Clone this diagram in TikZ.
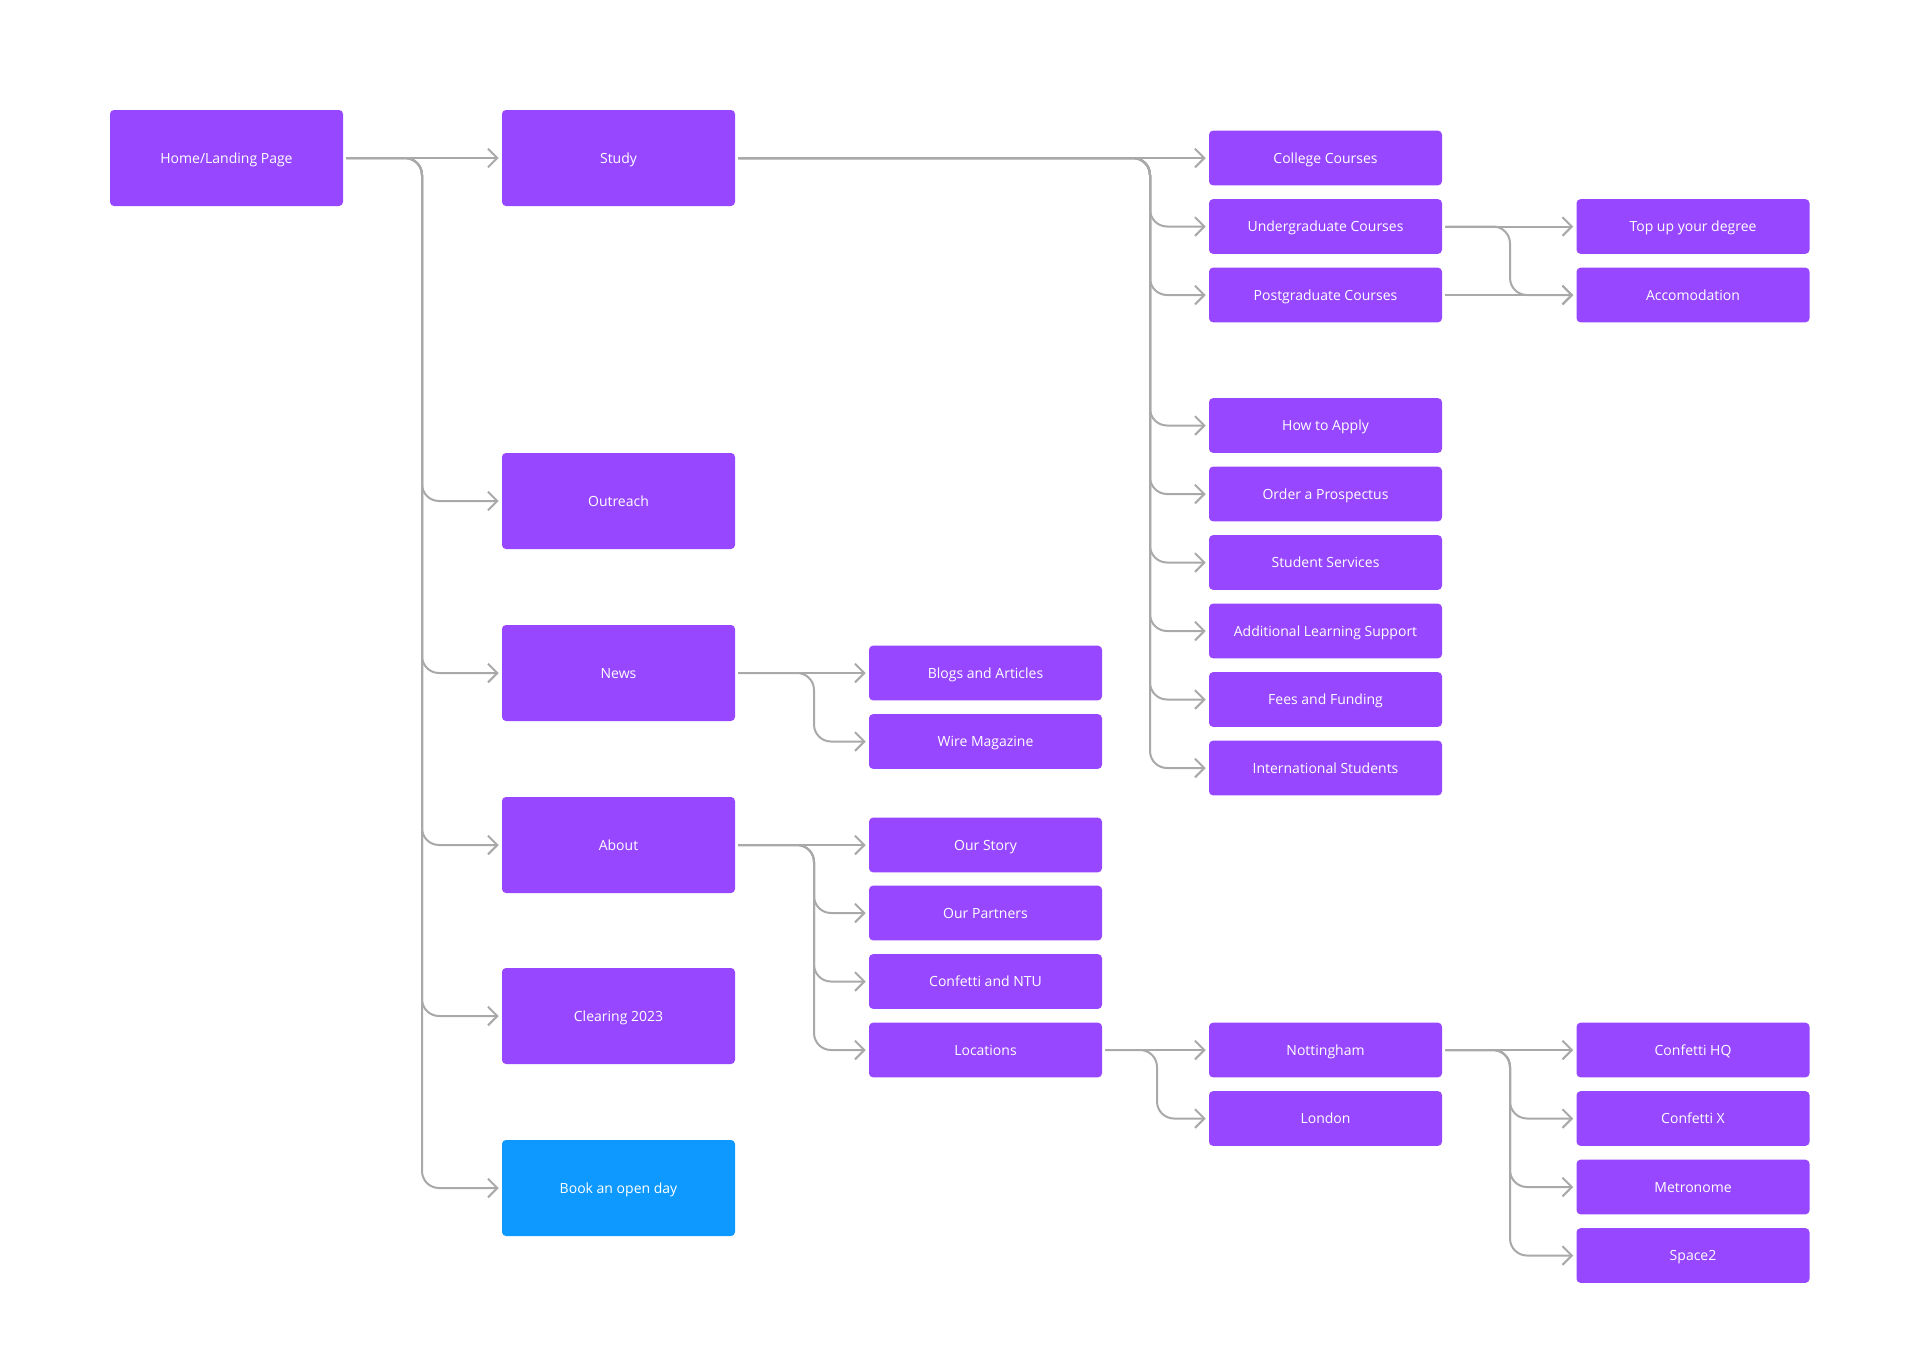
\documentclass[tikz,border=0pt]{standalone}
\usepackage{fontspec}
\setmainfont{Open Sans}
\usetikzlibrary{arrows.meta}
\definecolor{boxpurple}{HTML}{9747FF}
\definecolor{boxblue}{HTML}{0D99FF}
\definecolor{linegray}{HTML}{A9A9A9}
\tikzset{
  base/.style={rounded corners=3pt, text=white, font=\fontsize{10.5pt}{12pt}\selectfont, minimum width=174.75pt, inner sep=0pt, align=center, text height=7.6pt, text depth=0pt},
  bigbox/.style={base, fill=boxpurple, minimum height=72pt},
  bluebox/.style={base, fill=boxblue, minimum height=72pt},
  smallbox/.style={base, fill=boxpurple, minimum height=41pt},
  conn/.style={draw=linegray, line width=1.5pt, rounded corners=12.75pt, -{Straight Barb[length=7pt,width=14pt]}, shorten <=2.25pt, shorten >=2.25pt}
}
\begin{document}
\begin{tikzpicture}[x=0.75pt,y=-0.75pt]
\useasboundingbox (0,0) rectangle (1920,1364);
\fill[white] (0,0) rectangle (1920,1364);
% column 1
\node[bigbox] (home) at (226.5,158) {Home/Landing Page};
% column 2
\node[bigbox] (study) at (618.5,158) {Study};
\node[bigbox] (outreach) at (618.5,501) {Outreach};
\node[bigbox] (news) at (618.5,673) {News};
\node[bigbox] (about) at (618.5,845) {About};
\node[bigbox] (clearing) at (618.5,1016) {Clearing 2023};
\node[bluebox] (book) at (618.5,1188) {Book an open day};
% column 3
\node[smallbox] (blogs) at (985.5,673) {Blogs and Articles};
\node[smallbox] (wire) at (985.5,741.5) {Wire Magazine};
\node[smallbox] (story) at (985.5,845) {Our Story};
\node[smallbox] (partners) at (985.5,913) {Our Partners};
\node[smallbox] (ntu) at (985.5,981.5) {Confetti and NTU};
\node[smallbox] (locations) at (985.5,1050) {Locations};
% column 4
\node[smallbox] (college) at (1325.5,158) {College Courses};
\node[smallbox] (ug) at (1325.5,226.5) {Undergraduate Courses};
\node[smallbox] (pg) at (1325.5,295) {Postgraduate Courses};
\node[smallbox] (apply) at (1325.5,425.5) {How to Apply};
\node[smallbox] (prospectus) at (1325.5,494) {Order a Prospectus};
\node[smallbox] (services) at (1325.5,562.5) {Student Services};
\node[smallbox] (als) at (1325.5,631) {Additional Learning Support};
\node[smallbox] (fees) at (1325.5,699.5) {Fees and Funding};
\node[smallbox] (intl) at (1325.5,768) {International Students};
\node[smallbox] (nottingham) at (1325.5,1050) {Nottingham};
\node[smallbox] (london) at (1325.5,1118.5) {London};
% column 5
\node[smallbox] (topup) at (1693,226.5) {Top up your degree};
\node[smallbox] (accom) at (1693,295) {Accomodation};
\node[smallbox] (hq) at (1693,1050) {Confetti HQ};
\node[smallbox] (cx) at (1693,1118.5) {Confetti X};
\node[smallbox] (metronome) at (1693,1187) {Metronome};
\node[smallbox] (space) at (1693,1255.5) {Space2};
% trunks
\coordinate (tA) at (422,0);
\coordinate (tB) at (1150,0);
\coordinate (tC) at (814,0);
\coordinate (tD) at (1510,0);
\coordinate (tE) at (1157,0);
% home edges
\draw[conn] (home.east) -- (study.west);
\foreach \t in {outreach,news,about,clearing,book}
  \draw[conn] (home.east) -- (home.east -| tA) |- (\t.west);
% study edges
\draw[conn] (study.east) -- (college.west);
\foreach \t in {ug,pg,apply,prospectus,services,als,fees,intl}
  \draw[conn] (study.east) -- (study.east -| tB) |- (\t.west);
% news edges
\draw[conn] (news.east) -- (blogs.west);
\draw[conn] (news.east) -- (news.east -| tC) |- (wire.west);
% about edges
\draw[conn] (about.east) -- (story.west);
\foreach \t in {partners,ntu,locations}
  \draw[conn] (about.east) -- (about.east -| tC) |- (\t.west);
% undergraduate / postgraduate
\draw[conn] (ug.east) -- (topup.west);
\draw[conn] (ug.east) -- (ug.east -| tD) |- (accom.west);
\draw[conn] (pg.east) -- (accom.west);
% locations
\draw[conn] (locations.east) -- (nottingham.west);
\draw[conn] (locations.east) -- (locations.east -| tE) |- (london.west);
% nottingham
\draw[conn] (nottingham.east) -- (hq.west);
\foreach \t in {cx,metronome,space}
  \draw[conn] (nottingham.east) -- (nottingham.east -| tD) |- (\t.west);
\end{tikzpicture}
\end{document}
